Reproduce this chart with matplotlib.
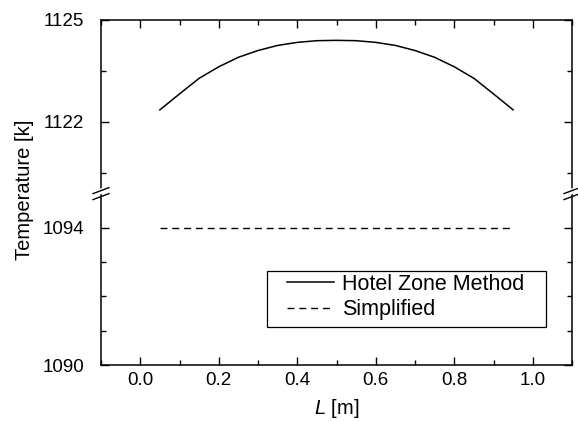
import matplotlib
matplotlib.use("Agg")
from matplotlib import rcParams
from matplotlib.pyplot import figure
from matplotlib.lines import Line2D
from matplotlib.patches import Polygon, Rectangle
from matplotlib.ticker import MultipleLocator

rcParams["font.family"] = "Liberation Sans"
rcParams["mathtext.fontset"] = "custom"
rcParams["mathtext.rm"] = "Liberation Sans"
rcParams["mathtext.it"] = "Liberation Sans:italic"

# data
length_m = [0.05, 0.10, 0.15, 0.20, 0.25, 0.30, 0.35, 0.40, 0.45, 0.50,
            0.55, 0.60, 0.65, 0.70, 0.75, 0.80, 0.85, 0.90, 0.95]
temp_zone = [1122.35, 1122.82, 1123.28, 1123.62, 1123.90, 1124.10, 1124.25,
             1124.34, 1124.39, 1124.40, 1124.39, 1124.34, 1124.25, 1124.10,
             1123.90, 1123.62, 1123.28, 1122.82, 1122.35]
temp_simple = [1094.0] * len(length_m)

upper_ticks = [1122, 1125]
upper_minor = [1120.5, 1123.5]
lower_ticks = [1090, 1094]
lower_minor = [1091, 1092, 1093]
x_ticks = [0.0, 0.2, 0.4, 0.6, 0.8, 1.0]

W, H = 578, 422
left, right = 101 / W, 572 / W
bottom, top = 1 - 365 / H, 1 - 20 / H
split = 1 - 193.6 / H

fig = figure(figsize=(W / 100, H / 100), dpi=100)
ax_up = fig.add_axes([left, split, right - left, top - split])
ax_lo = fig.add_axes([left, bottom, right - left, split - bottom], sharex=ax_up)

ax_up.plot(length_m, temp_zone, color="black", lw=1.1, label="Hotel Zone Method")
ax_lo.plot(length_m, temp_simple, color="black", lw=1.0, dashes=(5, 3.5),
           label="Simplified")

ax_up.set_ylim(1119.88, 1125)
ax_lo.set_ylim(1090, 1095.0)
ax_lo.set_xlim(-0.1, 1.1)

ax_up.set_yticks(upper_ticks)
ax_up.set_yticks(upper_minor, minor=True)
ax_lo.set_yticks(lower_ticks)
ax_lo.set_yticks(lower_minor, minor=True)
ax_lo.set_xticks(x_ticks)
ax_lo.xaxis.set_minor_locator(MultipleLocator(0.1))

for ax in (ax_up, ax_lo):
    for s in ax.spines.values():
        s.set_linewidth(1.1)
    ax.tick_params(which="both", direction="in", right=True, width=1.0,
                   labelsize=13.5)
    ax.tick_params(which="major", length=6)
    ax.tick_params(which="minor", length=3.5)
    ax.tick_params(axis="y", pad=12)
    ax.tick_params(axis="x", pad=5)

ax_up.spines["bottom"].set_visible(False)
ax_lo.spines["top"].set_visible(False)
ax_up.tick_params(axis="x", which="both", bottom=False, top=True,
                  labelbottom=False)
ax_lo.tick_params(axis="x", which="both", top=False)

# axis break marks
for xs in (101, 572):
    gap = Polygon([((xs - 8) / W, 1 - 197.3 / H), ((xs + 8) / W, 1 - 191.3 / H),
                   ((xs + 8) / W, 1 - 185.3 / H), ((xs - 8) / W, 1 - 191.3 / H)],
                  closed=True, transform=fig.transFigure, facecolor="white",
                  edgecolor="none", zorder=5)
    fig.add_artist(gap)
    for dy in (0, 6):
        fig.add_artist(Line2D([(xs - 8) / W, (xs + 8) / W],
                              [1 - (193.6 + dy) / H, 1 - (187.6 + dy) / H],
                              transform=fig.transFigure, color="black",
                              lw=1.0, zorder=6))

# legend: frameless entries plus a wider box drawn round them
handles = ax_up.get_lines() + ax_lo.get_lines()
fig.legend(handles=handles, labels=[h.get_label() for h in handles],
           loc="upper left", bbox_to_anchor=(287 / W, 1 - 274 / H),
           fontsize=15.5, frameon=False, borderpad=0, labelspacing=0.2,
           handlelength=2.2, handletextpad=0.35, borderaxespad=0)
fig.add_artist(Rectangle((267 / W, 1 - 327 / H), 279 / W, 56 / H,
                         transform=fig.transFigure, facecolor="none",
                         edgecolor="black", lw=0.9))

fig.text(24 / W, 1 - 190 / H, "Temperature [k]", rotation=90, fontsize=14.5,
         ha="center", va="center")
fig.text(336.5 / W, 1 - 409 / H, "$L$ [m]", fontsize=14.5, ha="center",
         va="center")

fig.savefig("out.png", dpi=100)
